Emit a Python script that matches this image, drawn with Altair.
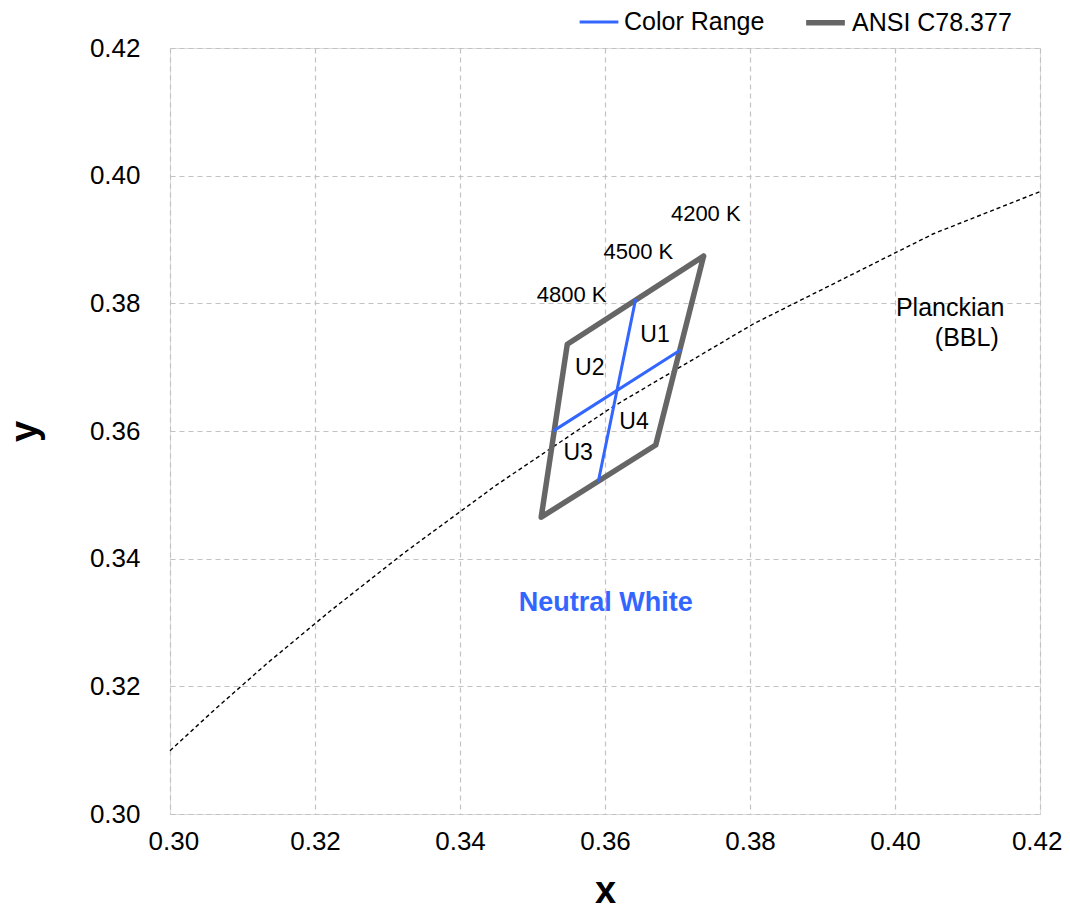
import altair as alt
import pandas as pd

# ANSI C78.377 4500 K quadrangle (closed)
ansi_x = [0.3736, 0.3548, 0.3512, 0.3670, 0.3736]
ansi_y = [0.3874, 0.3736, 0.3465, 0.3578, 0.3874]

# Color range dividing lines
cr1_x = [0.3642, 0.3591]
cr1_y = [0.3805, 0.3522]
cr2_x = [0.3530, 0.3703]
cr2_y = [0.3601, 0.3726]

# Planckian locus (BBL)
bbl_x = [0.3000, 0.3064, 0.3135, 0.3221, 0.3324, 0.3451, 0.3608, 0.3805, 0.4053, 0.4200]
bbl_y = [0.3099, 0.3166, 0.3237, 0.3318, 0.3410, 0.3516, 0.3636, 0.3768, 0.3909, 0.3975]

# Annotations
cct_labels = ["4200 K", "4500 K", "4800 K"]
cct_x = [0.3739, 0.3646, 0.3554]
cct_y = [0.3940, 0.3880, 0.3813]

u_labels = ["U1", "U2", "U3", "U4"]
u_x = [0.3669, 0.3579, 0.3563, 0.3640]
u_y = [0.3750, 0.3699, 0.3566, 0.3614]

bbl_labels = ["Planckian", "(BBL)"]
bbl_lx = [0.4076, 0.4099]
bbl_ly = [0.3793, 0.3746]

zone_label = ["Neutral White"]
zone_x = [0.3601]
zone_y = [0.3331]

FONT = "Liberation Sans"
BLUE = "#3366ff"
GRAY = "#666666"

rows = []
for i, (x, y) in enumerate(zip(ansi_x, ansi_y)):
    rows.append({"series": "ANSI C78.377", "seg": "ansi", "o": i, "x": x, "y": y})
for i, (x, y) in enumerate(zip(cr1_x, cr1_y)):
    rows.append({"series": "Color Range", "seg": "cr1", "o": i, "x": x, "y": y})
for i, (x, y) in enumerate(zip(cr2_x, cr2_y)):
    rows.append({"series": "Color Range", "seg": "cr2", "o": i, "x": x, "y": y})
lines_df = pd.DataFrame(rows)

bbl_df = pd.DataFrame({"x": bbl_x, "y": bbl_y, "o": list(range(len(bbl_x)))})

xs = alt.Scale(domain=[0.30, 0.42], nice=False, zero=False)
ys = alt.Scale(domain=[0.30, 0.42], nice=False, zero=False)
ticks = [0.30, 0.32, 0.34, 0.36, 0.38, 0.40, 0.42]

xax = alt.Axis(values=ticks, format=".2f", title="x", grid=True, ticks=False, domain=False,
               labelFontSize=26, labelPadding=14, titleFontSize=38, titleFontWeight="bold",
               titlePadding=18, labelFont=FONT, titleFont=FONT, labelColor="black",
               gridColor="#c2c2c2", gridDash=[5, 4], gridWidth=1.2,
               labelFlush=True, labelFlushOffset=22)
yax = alt.Axis(values=ticks, format=".2f", title="y", grid=True, ticks=False, domain=False,
               labelFontSize=26, labelPadding=30, titleFontSize=38, titleFontWeight="bold",
               titlePadding=45, labelFont=FONT, titleFont=FONT, labelColor="black",
               gridColor="#c2c2c2", gridDash=[5, 4], gridWidth=1.2, labelFlush=False)

bbl = alt.Chart(bbl_df).mark_line(color="black", strokeWidth=1.4, strokeDash=[4, 3]).encode(
    x=alt.X("x:Q", scale=xs, axis=xax),
    y=alt.Y("y:Q", scale=ys, axis=yax),
    order="o:Q",
)

dom = ["Color Range", "ANSI C78.377"]
leg = alt.Legend(title=None, orient="none", legendX=408, legendY=-48,
                 direction="horizontal", symbolType="stroke",
                 symbolSize=1500, labelFontSize=25, labelFont=FONT,
                 columnPadding=30, labelLimit=300)
lines = alt.Chart(lines_df).mark_line(strokeCap="round", strokeJoin="round").encode(
    x=alt.X("x:Q", scale=xs),
    y=alt.Y("y:Q", scale=ys),
    detail="seg:N",
    order="o:Q",
    color=alt.Color("series:N", scale=alt.Scale(domain=dom, range=[BLUE, GRAY]), legend=leg),
    strokeWidth=alt.StrokeWidth("series:N", scale=alt.Scale(domain=dom, range=[3, 5.5]), legend=leg),
)

def text_layer(labels, lx, ly, size, color="black", weight="normal"):
    df = pd.DataFrame({"t": labels, "x": lx, "y": ly})
    return alt.Chart(df).mark_text(fontSize=size, font=FONT, color=color, fontWeight=weight,
                                   align="center", baseline="middle").encode(
        x=alt.X("x:Q", scale=xs), y=alt.Y("y:Q", scale=ys), text="t:N")

chart = alt.layer(
    bbl,
    lines,
    text_layer(cct_labels, cct_x, cct_y, 22),
    text_layer(u_labels, u_x, u_y, 23),
    text_layer(bbl_labels, bbl_lx, bbl_ly, 25),
    text_layer(zone_label, zone_x, zone_y, 27, color=BLUE, weight="bold"),
).properties(
    width=870, height=766,
    autosize=alt.AutoSizeParams(type="none"),
    padding={"left": 162, "top": 40, "right": 22, "bottom": 96},
).configure_view(
    stroke="black", strokeWidth=2
).configure(background="white")

chart.save("out.html", embed_options={"renderer": "svg", "actions": False})
